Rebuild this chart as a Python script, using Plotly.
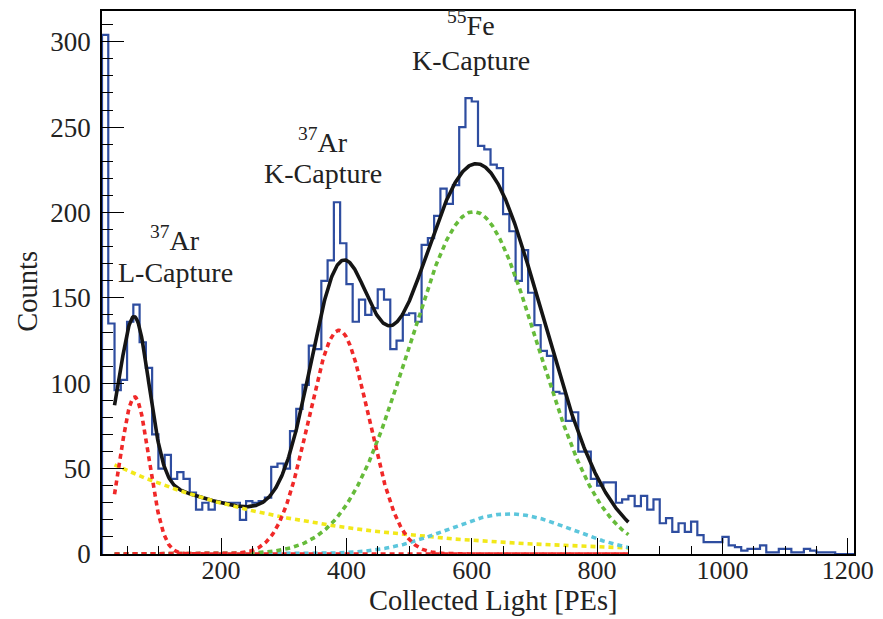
import numpy as np
import plotly.graph_objects as go

# ---------------- data ----------------
bin_low = 10
bin_width = 10
counts = [304, 135, 96, 102, 136, 146, 124, 109, 70, 50,
          58, 44, 48, 44, 36, 26, 30, 26, 30, 30,
          30, 30, 20, 31, 30, 31, 33, 51, 53, 50,
          72, 85, 99, 122, 120, 160, 172, 206, 182, 158,
          136, 149, 140, 144, 155, 149, 120, 125, 140, 141,
          136, 181, 185, 198, 214, 205, 216, 250, 267, 265,
          239, 237, 228, 226, 199, 189, 160, 178, 153, 134,
          119, 116, 95, 94, 78, 83, 60, 60, 44, 40,
          42, 42, 30, 32, 34, 28, 34, 26, 32, 18,
          21, 13, 18, 13, 19, 11, 7, 7, 7, 10,
          5, 4, 2, 3, 3, 5, 1, 1, 3, 3,
          1, 1, 3, 2, 1, 1, 1, 0, 0, 0]

# fit components: [amplitude, mean, sigma]
ar37_L = [92.0, 62.0, 23.0]
ar37_K = [131.0, 388.0, 48.0]
fe55_K = [200.5, 603.0, 103.0]
extra_g = [23.5, 660.0, 100.0]
# exponential background: [value at fit start, decay constant]
background = [52.2, 304.0]
fit_range = [30, 850]

x_ticks = [200, 400, 600, 800, 1000, 1200]
y_ticks = [0, 50, 100, 150, 200, 250, 300]

# peak labels: (isotope line, capture line, x, y of isotope line, y of capture line)
labels = [
    ("<sup>37</sup>Ar", "L-Capture", 127, 184.5, 165),
    ("<sup>37</sup>Ar", "K-Capture", 363, 242, 223),
    ("<sup>55</sup>Fe", "K-Capture", 599, 310.5, 289),
]

# ---------------- build ----------------
counts = np.array(counts, dtype=float)
edges = bin_low + bin_width * np.arange(len(counts) + 1)
hx = np.concatenate([[edges[0]], edges])
hy = np.concatenate([[0], counts, [counts[-1]]])

xf = np.linspace(fit_range[0], fit_range[1], 800)


def gauss(x, p):
    return p[0] * np.exp(-0.5 * ((x - p[1]) / p[2]) ** 2)


y_L = gauss(xf, ar37_L)
y_K = gauss(xf, ar37_K)
y_Fe = gauss(xf, fe55_K)
y_X = gauss(xf, extra_g)
y_B = background[0] * np.exp(-(xf - fit_range[0]) / background[1])
y_tot = y_L + y_K + y_Fe + y_X + y_B

FONT = "Liberation Serif"
TXT = "#222222"
DOT = "5px,4px"

fig = go.Figure()
fig.add_trace(go.Scatter(x=hx, y=hy, mode="lines", line=dict(color="#2E4DA0", width=2.2, shape="hv"),
                         hoverinfo="skip"))
fig.add_trace(go.Scatter(x=xf, y=y_tot, mode="lines", line=dict(color="#151515", width=3.6)))
fig.add_trace(go.Scatter(x=xf, y=y_B, mode="lines", line=dict(color="#F2E81A", width=3.6, dash=DOT)))
fig.add_trace(go.Scatter(x=xf, y=y_X, mode="lines", line=dict(color="#5CC6DC", width=3.6, dash=DOT)))
fig.add_trace(go.Scatter(x=xf, y=y_Fe, mode="lines", line=dict(color="#66BB3A", width=3.6, dash=DOT)))
fig.add_trace(go.Scatter(x=xf, y=y_K, mode="lines", line=dict(color="#F02828", width=3.6, dash=DOT)))
fig.add_trace(go.Scatter(x=xf, y=y_L, mode="lines", line=dict(color="#F02828", width=3.6, dash=DOT)))

for iso, cap, x, y1, y2 in labels:
    fig.add_annotation(x=x, y=y1, xref="x", yref="y", text=iso, showarrow=False,
                       font=dict(family=FONT, size=28, color=TXT), xanchor="center", yanchor="middle")
    fig.add_annotation(x=x, y=y2, xref="x", yref="y", text=cap, showarrow=False,
                       font=dict(family=FONT, size=28, color=TXT), xanchor="center", yanchor="middle")

fig.add_annotation(x=0.52, y=-0.085, xref="paper", yref="paper", text="Collected Light [PEs]",
                   showarrow=False, font=dict(family=FONT, size=28.5, color=TXT),
                   xanchor="center", yanchor="middle")
fig.add_annotation(x=-0.099, y=0.484, xref="paper", yref="paper", text="Counts", textangle=-90,
                   showarrow=False, font=dict(family=FONT, size=28.5, color=TXT),
                   xanchor="center", yanchor="middle")

axis_common = dict(showline=True, linecolor="black", linewidth=1.5, mirror=True, showgrid=False,
                   zeroline=False, ticks="inside", tickcolor="black", tickwidth=1.3,
                   ticklabeloverflow="allow")

fig.update_layout(
    width=883, height=619,
    margin=dict(l=102, r=20, t=9, b=65, pad=0),
    paper_bgcolor="white", plot_bgcolor="white",
    showlegend=False,
    xaxis=dict(range=[edges[0], edges[-1]], tickvals=x_ticks, ticklen=16, ticklabelstandoff=-8,
               tickfont=dict(family=FONT, size=26, color=TXT),
               minor=dict(dtick=50, tick0=0, ticks="inside", ticklen=8, tickcolor="black",
                          tickwidth=1, showgrid=False),
               **axis_common),
    yaxis=dict(range=[0, 318], tickvals=y_ticks, ticklen=22, ticklabelstandoff=4,
               tickfont=dict(family=FONT, size=27, color=TXT),
               minor=dict(dtick=10, tick0=0, ticks="inside", ticklen=11, tickcolor="black",
                          tickwidth=1, showgrid=False),
               **axis_common),
)

fig.write_html("out.html")
